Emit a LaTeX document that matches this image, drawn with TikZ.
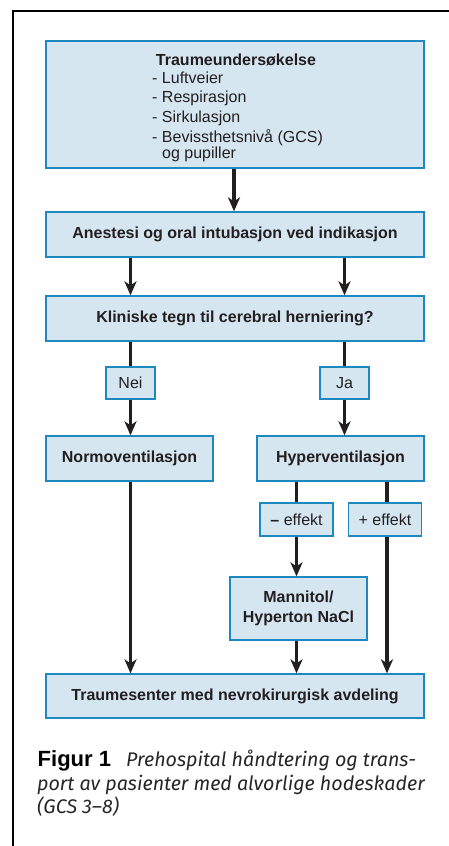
\documentclass[tikz,border=0pt]{standalone}
\usepackage{fontspec}
\setmainfont{Liberation Sans}
\newfontfamily\capfont{Fira Sans}
\usetikzlibrary{arrows.meta}
\definecolor{boxfill}{HTML}{D5E6F1}
\definecolor{boxline}{HTML}{1E88C0}
\definecolor{arrcol}{HTML}{231F20}
\tikzset{
  box/.style={draw=boxline, fill=boxfill, line width=1.3pt, inner sep=0pt, font=\fontsize{16}{18}\selectfont\bfseries, text=arrcol, align=center},
  lab/.style={draw=boxline, fill=boxfill, line width=1.3pt, inner sep=0pt, font=\fontsize{16}{18}\selectfont, text=arrcol},
  txt/.style={inner sep=0pt, text=arrcol, font=\fontsize{16}{18}\selectfont},
  arr/.style={draw=arrcol, line width=3.2pt, -{Stealth[length=14pt,width=12pt,inset=4pt]}},
  ln/.style={draw=arrcol, line width=3.2pt},
  captxt/.style={inner sep=0pt, anchor=base west, text=black!85, font=\capfont\fontsize{19.7}{24}\selectfont\itshape}
}
\begin{document}
\begin{tikzpicture}[x=1pt,y=-1pt]
\useasboundingbox (0,0) rectangle (448,846);
% frame
\coordinate (fb) at (13,846);
\coordinate (fc) at (13,11);
\coordinate (fr) at (448,11);
\draw[line width=2pt, line cap=rect] (fb) -- (fc) -- (fr);
% boxes
\node[box, minimum width=378pt, minimum height=127pt] (b1) at (235,104.5) {};
\node[txt, anchor=base, font=\fontsize{16}{18}\selectfont\bfseries] (t0) at (236,65.7) {Traumeundersøkelse};
\node[txt, anchor=base west] (t1) at (152,83) {- Luftveier};
\node[txt, anchor=base west] (t2) at (152,102.5) {- Respirasjon};
\node[txt, anchor=base west] (t3) at (152,122) {- Sirkulasjon};
\node[txt, anchor=base west] (t4) at (152,142) {- Bevissthetsnivå (GCS)};
\node[txt, anchor=base west] (t5) at (162,158) {og pupiller};
\node[box, minimum width=378pt, minimum height=45pt] (b2) at (235,234.5) {Anestesi og oral intubasjon ved indikasjon};
\node[box, minimum width=378pt, minimum height=45pt] (b3) at (235,318.5) {Kliniske tegn til cerebral hernier\-ing?};
\node[lab, minimum width=49pt, minimum height=32pt] (nei) at (130.5,383) {Nei};
\node[lab, minimum width=49pt, minimum height=32pt] (ja) at (344.5,383) {Ja};
\node[box, minimum width=167pt, minimum height=45pt] (normo) at (129.5,458.5) {Normoventilasjon};
\node[box, minimum width=167pt, minimum height=45pt] (hyper) at (340.5,458.5) {Hyperventilasjon};
\node[lab, minimum width=73pt, minimum height=33pt] (minus) at (296.5,519.5) {\textbf{–} effekt};
\node[lab, minimum width=73pt, minimum height=33pt] (plus) at (385,519.5) {+ effekt};
\node[box, minimum width=137pt, minimum height=63pt, font=\fontsize{16}{20}\selectfont\bfseries] (man) at (298.5,608.5) {Mannitol/\\Hyperton NaCl};
\node[box, minimum width=378pt, minimum height=44pt] (fin) at (235,696) {Traumesenter med nevrokirurgisk avdeling};
% connectors
\draw[arr] (b1.south -| 234,0) -- (b2.north -| 234,0);
\draw[arr] (b2.south -| nei) -- (b3.north -| nei);
\draw[arr] (b2.south -| ja) -- (b3.north -| ja);
\draw[ln] (b3.south -| nei) -- (nei.north);
\draw[ln] (b3.south -| ja) -- (ja.north);
\draw[arr] (nei.south) -- (normo.north -| nei);
\draw[arr] (ja.south) -- (hyper.north -| ja);
\draw[ln] (hyper.south -| minus) -- (minus.north);
\draw[ln] (hyper.south -| 387,0) -- (plus.north -| 387,0);
\draw[arr] (minus.south) -- (man.north -| minus);
\draw[arr] (normo.south -| nei) -- (fin.north -| nei);
\draw[arr] (man.south -| minus) -- (fin.north -| minus);
\draw[arr] (plus.south -| 387,0) -- (fin.north -| 387,0);
% caption
\node[captxt, text=black, font=\fontsize{22}{26}\selectfont\bfseries] (c0) at (37.5,766) {Figur 1};
\node[captxt] (c1) at (126,766) {Prehospital håndtering og trans-};
\node[captxt] (c2) at (37,790) {port av pasienter med alvorlige hodeskader};
\node[captxt] (c3) at (37,813) {(GCS 3–8)};
\end{tikzpicture}
\end{document}
